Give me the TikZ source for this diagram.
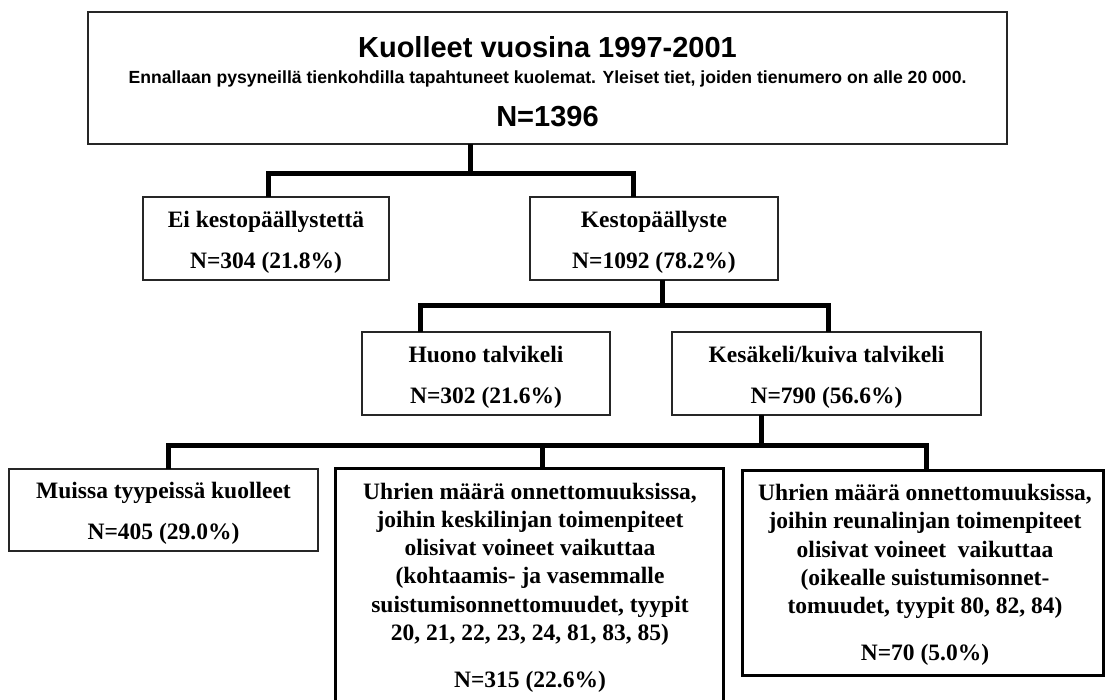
\documentclass[tikz,border=0pt]{standalone}
\usepackage{fontspec}
\setmainfont{Liberation Serif}
\newfontfamily\arialfont{Liberation Sans}
\begin{document}
\begin{tikzpicture}[x=1pt,y=-1pt,
  thinbox/.style={draw=black!85, line width=1.3pt, inner sep=0pt, outer sep=0pt},
  thickbox/.style={draw=black, line width=3pt, inner sep=0pt, outer sep=0pt},
  conn/.style={draw=black, line width=5pt, line join=miter},
  lbl/.style={anchor=base, inner sep=0pt, font=\bfseries\fontsize{23.5}{28}\selectfont},
  sanslbl/.style={anchor=base, inner sep=0pt},
]
\useasboundingbox (0,0) rectangle (1106,699);

% boxes
\node[thinbox, minimum width=919pt, minimum height=132pt] (top) at (547.5,78) {};
\node[thinbox, minimum width=246pt, minimum height=83pt] (ei) at (266,238.5) {};
\node[thinbox, minimum width=248pt, minimum height=83pt] (kesto) at (654,238.5) {};
\node[thinbox, minimum width=248pt, minimum height=83pt] (huono) at (486,373.5) {};
\node[thinbox, minimum width=309pt, minimum height=83pt] (kesa) at (826.5,373.5) {};
\node[thinbox, minimum width=309pt, minimum height=82pt] (muissa) at (163.5,510) {};
\node[thickbox, minimum width=388pt, minimum height=237pt] (keski) at (529,586.5) {};
\node[thickbox, minimum width=361pt, minimum height=205pt] (reuna) at (922.5,572.5) {};

% connectors
\draw[conn] ([xshift=-77.5pt]top.south) -- ++(0,31.5);
\draw[conn] ([xshift=2pt]ei.north) -- ++(0,-24) -| ([xshift=-21pt]kesto.north);
\draw[conn] ([xshift=8pt]kesto.south) -- ++(0,27.5);
\draw[conn] ([xshift=-66pt]huono.north) -- ++(0,-27) -| ([xshift=1.5pt]kesa.north);
\draw[conn] ([xshift=-65.5pt]kesa.south) -- ++(0,32.5);
\draw[conn] ([xshift=4.5pt]muissa.north) -- ++(0,-24) -| ([xshift=3.5pt]reuna.north);
\draw[conn] ([xshift=13pt]keski.north) -- ++(0,-25.5);

% top texts
\node[sanslbl, font=\arialfont\bfseries\fontsize{29}{34}\selectfont] (t1) at (547.5,57) {Kuolleet vuosina 1997-2001};
\node[sanslbl, font=\arialfont\bfseries\fontsize{17.6}{21}\selectfont] (t2) at (547.5,83) {Ennallaan pysyneillä tienkohdilla tapahtuneet kuolemat. Yleiset tiet, joiden tienumero on alle 20 000.};
\node[sanslbl, font=\arialfont\bfseries\fontsize{29}{34}\selectfont] (t3) at (547.5,126) {N=1396};

% second row
\node[lbl] (e1) at (266,227) {Ei kestopäällystettä};
\node[lbl] (e2) at (266,268) {N=304 (21.8\%)};
\node[lbl] (s1) at (654,227) {Kestopäällyste};
\node[lbl] (s2) at (654,268) {N=1092 (78.2\%)};

% third row
\node[lbl] (h1) at (486,362) {Huono talvikeli};
\node[lbl] (h2) at (486,403) {N=302 (21.6\%)};
\node[lbl] (a1) at (826.5,362) {Kesäkeli/kuiva talvikeli};
\node[lbl] (a2) at (826.5,403) {N=790 (56.6\%)};

% bottom row
\node[lbl] (m1) at (163.5,498) {Muissa tyypeissä kuolleet};
\node[lbl] (m2) at (163.5,539) {N=405 (29.0\%)};

\node[lbl] (k1) at (530,499) {Uhrien määrä onnettomuuksissa,};
\node[lbl] (k2) at (530,527) {joihin keskilinjan toimenpiteet};
\node[lbl] (k3) at (530,555) {olisivat voineet vaikuttaa};
\node[lbl] (k4) at (530,583) {(kohtaamis- ja vasemmalle};
\node[lbl] (k5) at (530,612) {suistumisonnettomuudet, tyypit};
\node[lbl] (k6) at (530,640) {20, 21, 22, 23, 24, 81, 83, 85)};
\node[lbl] (k7) at (530,687) {N=315 (22.6\%)};

\node[lbl] (r1) at (925,500) {Uhrien määrä onnettomuuksissa,};
\node[lbl] (r2) at (925,528) {joihin reunalinjan toimenpiteet};
\node[lbl] (r3) at (925,557) {olisivat voineet\ \ vaikuttaa};
\node[lbl] (r4) at (925,585) {(oikealle suistumisonnet-};
\node[lbl] (r5) at (925,613) {tomuudet, tyypit 80, 82, 84)};
\node[lbl] (r6) at (925,660) {N=70 (5.0\%)};
\end{tikzpicture}
\end{document}
